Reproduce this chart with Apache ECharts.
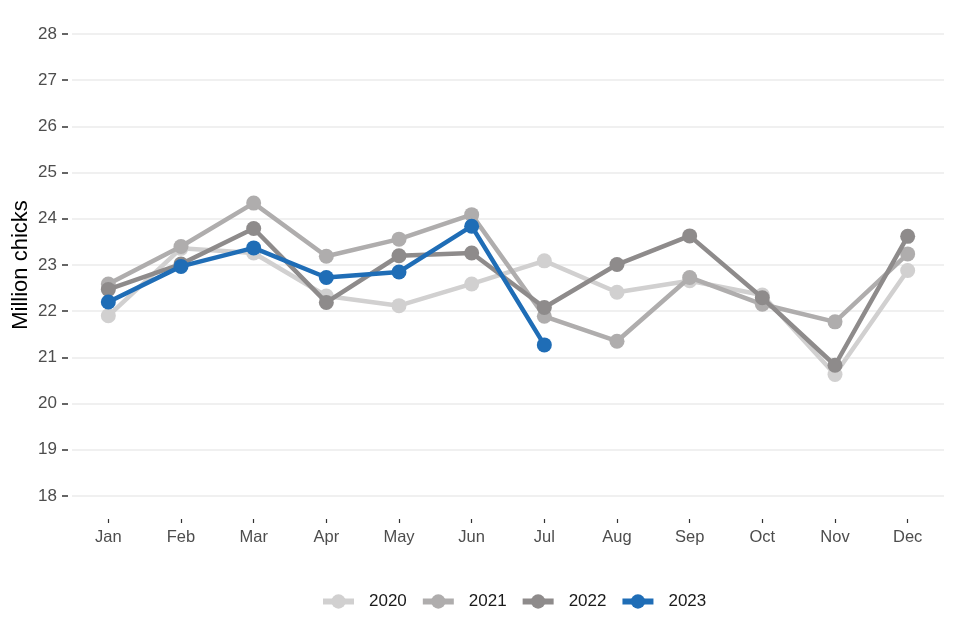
<!DOCTYPE html>
<html>
<head>
<meta charset="utf-8">
<script src="https://cdn.jsdelivr.net/npm/echarts@6/dist/echarts.min.js"></script>
<style>html,body{margin:0;padding:0;background:#fff}#c{width:960px;height:640px}</style>
</head>
<body>
<div id="c"></div>
<script>
const months = ['Jan','Feb','Mar','Apr','May','Jun','Jul','Aug','Sep','Oct','Nov','Dec'];
const years = ['2020','2021','2022','2023'];
const s2020 = [21.90, 23.36, 23.26, 22.33, 22.12, 22.59, 23.09, 22.41, 22.66, 22.35, 20.63, 22.88];
const s2021 = [22.59, 23.40, 24.34, 23.19, 23.56, 24.09, 21.89, 21.35, 22.73, 22.15, 21.77, 23.24];
const s2022 = [22.47, 23.02, 23.79, 22.19, 23.20, 23.26, 22.08, 23.01, 23.63, 22.29, 20.83, 23.62];
const s2023 = [22.20, 22.97, 23.37, 22.73, 22.85, 23.84, 21.27];
const yTicks = [18, 28, 1];
const colors = ['#d1d0d0', '#afadad', '#8e8b8b', '#1f6db6'];

const chart = echarts.init(document.getElementById('c'));
const data = [s2020, s2021, s2022, s2023];
chart.setOption({
  animation: false,
  textStyle: {fontFamily: 'Liberation Sans, Arial, sans-serif'},
  grid: {left: 72, right: 16, top: 34, bottom: 144, containLabel: false, outerBoundsMode: 'none'},
  legend: {
    data: years,
    left: 315, top: 588,
    itemWidth: 31, itemHeight: 18, itemGap: 13,
    lineStyle: {width: 6},
    textStyle: {fontSize: 17, color: '#1a1a1a', padding: [0, 0, 0, 10]}
  },
  xAxis: {
    type: 'category', data: months, boundaryGap: true,
    offset: 23,
    axisLine: {show: false},
    axisTick: {show: true, alignWithLabel: true, length: 4, lineStyle: {color: '#333', width: 1.2}},
    axisLabel: {color: '#4d4d4d', fontSize: 16.5, margin: 10},
    splitLine: {show: false}
  },
  yAxis: {
    type: 'value', min: yTicks[0], max: yTicks[1], interval: yTicks[2],
    offset: 4,
    name: 'Million chicks', nameLocation: 'middle', nameGap: 36,
    nameMoveOverlap: false,
    nameTextStyle: {fontSize: 22, color: '#000'},
    axisLine: {show: false},
    axisTick: {show: true, length: 6, lineStyle: {color: '#333', width: 1.5}},
    axisLabel: {color: '#4d4d4d', fontSize: 17, margin: 11},
    splitLine: {show: true, lineStyle: {color: '#ebebeb', width: 1.5}}
  },
  series: years.map((y, i) => ({
    name: y, type: 'line', data: data[i],
    symbol: 'circle', symbolSize: 15,
    lineStyle: {width: 4.5, color: colors[i]},
    itemStyle: {color: colors[i]},
    z: 2 + i
  }))
});
</script>
</body>
</html>
